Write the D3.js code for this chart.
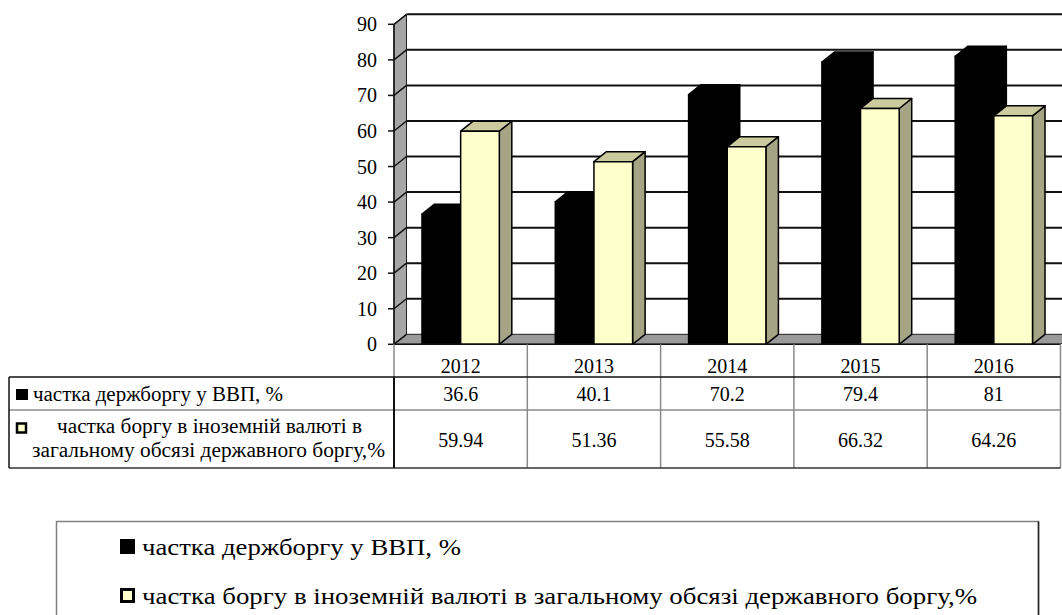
<html><head><meta charset="utf-8"><script src="https://cdn.jsdelivr.net/npm/d3@7"></script></head>
<body style="margin:0">
<svg id="s" width="1062" height="615"></svg>
<script>
// Years and series values
const years = ["2012", "2013", "2014", "2015", "2016"];
const debtToGdp = [36.6, 40.1, 70.2, 79.4, 81];
const fxShare = [59.94, 51.36, 55.58, 66.32, 64.26];
const yTicks = [0, 10, 20, 30, 40, 50, 60, 70, 80, 90];
const seriesNames = [
  "частка держборгу у ВВП, %",
  "частка боргу в іноземній валюті в загальному обсязі державного боргу,%"
];
const tableLabel2 = ["частка боргу в іноземній валюті в", "загальному обсязі державного боргу,%"];

const svg = d3.select("#s");

// Plot geometry (front plane) and 3-D depth offset
const plotLeft = 394, plotRight = 1060.5;
const DX = 12.5, DY = -10;

const x = d3.scaleBand().domain(years).range([plotLeft, plotRight]).paddingInner(0).paddingOuter(0);
const sub = d3.scaleBand().domain([0, 1]).range([0, x.bandwidth()]).paddingInner(0).paddingOuter(0.724);
const y = d3.scaleLinear().domain([0, 90]).range([344.3, 24.3]);

const y0 = y(0), yTop = y(90);

// Left wall
svg.append("path")
  .attr("d", `M${plotLeft},${y0}L${plotLeft},${yTop}L${plotLeft + DX},${yTop + DY}L${plotLeft + DX},${y0 + DY}Z`)
  .attr("fill", "#a6a6a6").attr("stroke", "#222").attr("stroke-width", 1);

// Floor
svg.append("path")
  .attr("d", `M${plotLeft},${y0}L${plotLeft + DX},${y0 + DY}L${plotRight + DX},${y0 + DY}L${plotRight},${y0}Z`)
  .attr("fill", "#9a9a9a").attr("stroke", "#222").attr("stroke-width", 1);

// Gridlines on back wall and their diagonals across the side wall
yTicks.filter(t => t > 0).forEach(t => {
  svg.append("line")
    .attr("x1", plotLeft + DX).attr("x2", plotRight + DX + 20)
    .attr("y1", y(t) + DY).attr("y2", y(t) + DY)
    .attr("stroke", "#111").attr("stroke-width", 2);
});
yTicks.forEach(t => {
  svg.append("line")
    .attr("x1", plotLeft - 6).attr("x2", plotLeft)
    .attr("y1", y(t)).attr("y2", y(t))
    .attr("stroke", "#111").attr("stroke-width", 1.5);
  svg.append("line")
    .attr("x1", plotLeft).attr("x2", plotLeft + DX)
    .attr("y1", y(t)).attr("y2", y(t) + DY)
    .attr("stroke", "#111").attr("stroke-width", 1.5);
});

// Vertical axis line
svg.append("line")
  .attr("x1", plotLeft).attr("x2", plotLeft).attr("y1", y0).attr("y2", yTop)
  .attr("stroke", "#111").attr("stroke-width", 1.5);

// 3-D bars
function barFaces(x0, w, v) {
  const x1 = x0 + w, yv = y(v);
  return {
    front: `M${x0},${yv}L${x1},${yv}L${x1},${y0}L${x0},${y0}Z`,
    top: `M${x0},${yv}L${x0 + DX},${yv + DY}L${x1 + DX},${yv + DY}L${x1},${yv}Z`,
    side: `M${x1},${yv}L${x1 + DX},${yv + DY}L${x1 + DX},${y0 + DY}L${x1},${y0}Z`
  };
}
const series = [
  { values: debtToGdp, front: "#000", top: "#000", side: "#000", stroke: "#000" },
  { values: fxShare, front: "#ffffcc", top: "#cbcb9f", side: "#a5a585", stroke: "#000" }
];
years.forEach((yr, i) => {
  series.forEach((s, si) => {
    const f = barFaces(x(yr) + sub(si), sub.bandwidth(), s.values[i]);
    ["side", "top", "front"].forEach(k => {
      svg.append("path").attr("d", f[k]).attr("fill", s[k])
        .attr("stroke", s.stroke).attr("stroke-width", 1.5).attr("stroke-linejoin", "round");
    });
  });
});

// Front floor edge
svg.append("line")
  .attr("x1", plotLeft).attr("x2", plotRight).attr("y1", y0).attr("y2", y0)
  .attr("stroke", "#111").attr("stroke-width", 1.5);

// Data table grid
const tLeft = 9, hdrTop = y0, r1Top = 377, r2Top = 410, tBottom = 468;
const line = (x1, y1, x2, y2, c, w) => svg.append("line")
  .attr("x1", x1).attr("y1", y1).attr("x2", x2).attr("y2", y2)
  .attr("stroke", c).attr("stroke-width", w);

years.forEach((yr, i) => {
  if (i > 0) line(x(yr), hdrTop, x(yr), tBottom, "#8a8a8a", 1.5);
});
line(plotLeft, hdrTop, plotLeft, r1Top, "#8a8a8a", 1.5);
line(plotRight, hdrTop, plotRight, tBottom, "#8a8a8a", 1.5);
line(tLeft, r2Top, plotRight, r2Top, "#8a8a8a", 1.5);
line(tLeft, r1Top, plotRight, r1Top, "#111", 1.5);
line(tLeft, tBottom, plotRight, tBottom, "#333", 1.5);
line(tLeft, r1Top, tLeft, tBottom, "#111", 1.5);
line(plotLeft, r1Top, plotLeft, tBottom, "#111", 2);

// Legend frame and keys
svg.append("rect").attr("x", 56.5).attr("y", 521.5).attr("width", 982).attr("height", 120)
  .attr("fill", "#fff").attr("stroke", "#808080").attr("stroke-width", 1.5);
svg.append("line").attr("x1", 1038.5).attr("x2", 1038.5).attr("y1", 521.5).attr("y2", 615)
  .attr("stroke", "#222").attr("stroke-width", 1.5);
svg.append("rect").attr("x", 120).attr("y", 539).attr("width", 15).attr("height", 15).attr("fill", "#000");
svg.append("rect").attr("x", 121.5).attr("y", 589.5).attr("width", 12).attr("height", 12)
  .attr("fill", "#ffffcc").attr("stroke", "#000").attr("stroke-width", 3);

// Table row keys
svg.append("rect").attr("x", 16).attr("y", 389).attr("width", 12).attr("height", 11).attr("fill", "#000");
svg.append("rect").attr("x", 17).attr("y", 423.5).attr("width", 9).attr("height", 9)
  .attr("fill", "#ffffcc").attr("stroke", "#000").attr("stroke-width", 2.5);

// Every text item: content, position, size, anchor and (for the Cyrillic labels) set width
const cx = d => x(d) + x.bandwidth() / 2;
const texts = [].concat(
  yTicks.map(t => ({ t: String(t), x: 377, y: y(t) + 7, s: 20, a: "end" })),
  years.map(yr => ({ t: yr, x: cx(yr), y: 373, s: 20, a: "middle" })),
  debtToGdp.map((v, i) => ({ t: String(v), x: cx(years[i]), y: 401, s: 20, a: "middle" })),
  fxShare.map((v, i) => ({ t: String(v), x: cx(years[i]), y: 447, s: 20, a: "middle" })),
  [{ t: seriesNames[0], x: 33, y: 401, s: 20, a: "start", w: 250 }],
  tableLabel2.map((t, i) => ({ t, x: i ? 32 : 57, y: 433 + i * 24, s: 20, a: "start", w: i ? 353 : 305 })),
  seriesNames.map((t, i) => ({ t, x: 142, y: i ? 604 : 555, s: 23, a: "start", w: i ? 835 : 319 }))
);
svg.selectAll("text").data(texts).join("text")
  .attr("x", d => d.x).attr("y", d => d.y)
  .attr("font-size", d => d.s)
  .attr("text-anchor", d => d.a)
  .attr("textLength", d => d.w || null)
  .attr("lengthAdjust", d => d.w ? "spacingAndGlyphs" : null)
  .style("font-family", d => `"Liberation Serif"`)
  .text(d => d.t);
</script></body></html>
